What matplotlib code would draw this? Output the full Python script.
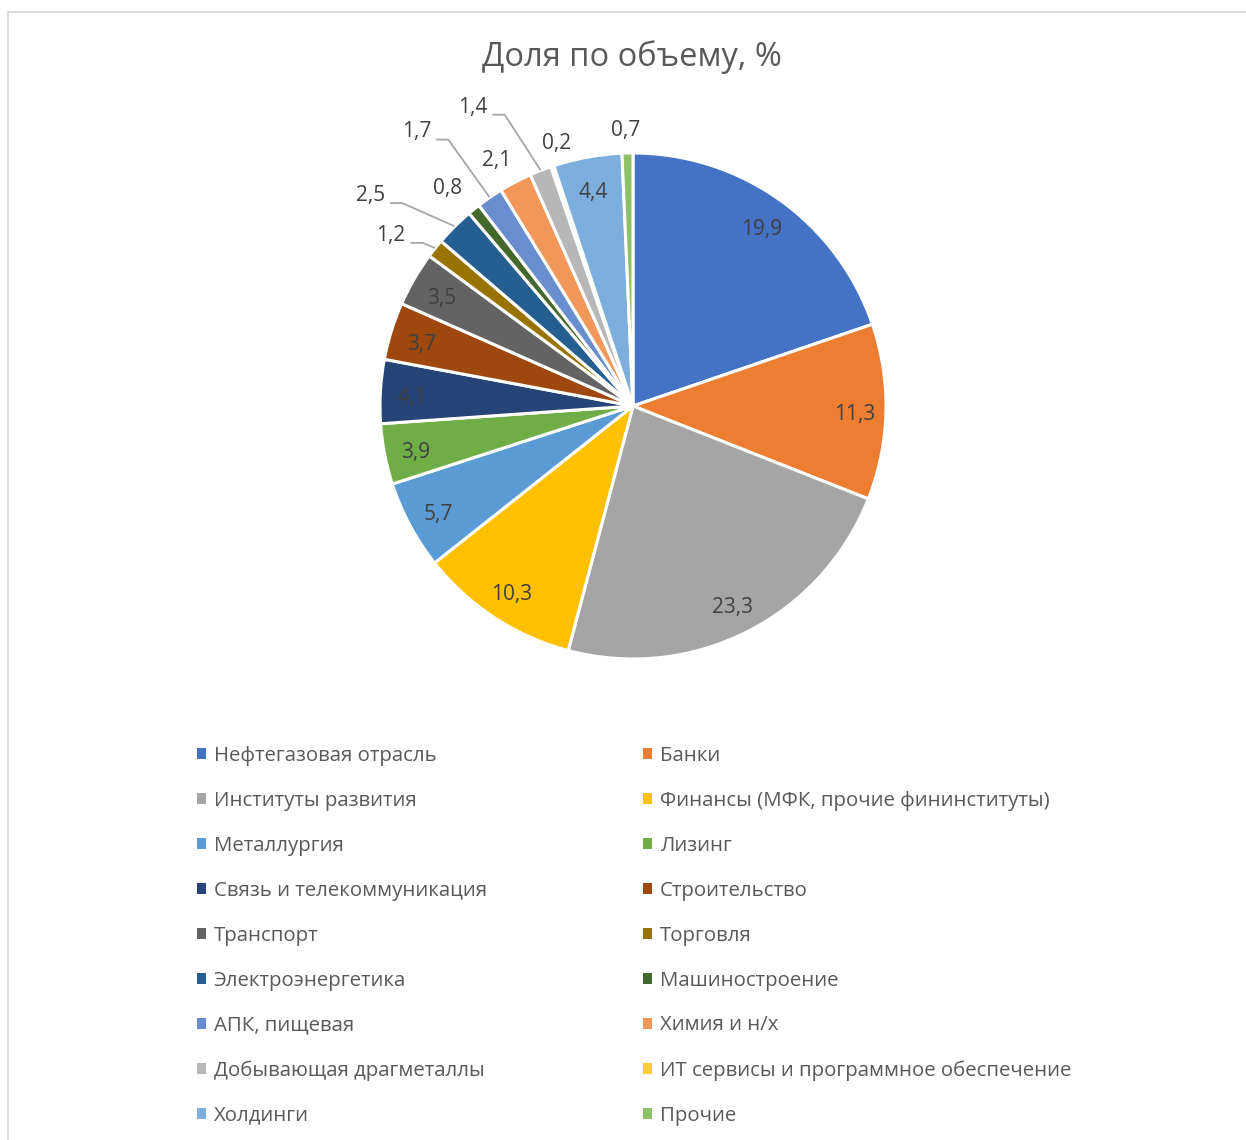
import numpy as np
import matplotlib
matplotlib.use('Agg')
from matplotlib import pyplot as plt
from matplotlib.patches import Rectangle, Patch

plt.rcParams['font.family'] = ['Open Sans', 'DejaVu Sans']

# sectors, shares in %, clockwise from 12 o'clock
sectors = ['Нефтегазовая отрасль', 'Банки', 'Институты развития',
           'Финансы (МФК, прочие фининституты)', 'Металлургия', 'Лизинг',
           'Связь и телекоммуникация', 'Строительство', 'Транспорт', 'Торговля',
           'Электроэнергетика', 'Машиностроение', 'АПК, пищевая', 'Химия и н/х',
           'Добывающая драгметаллы', 'ИТ сервисы и программное обеспечение',
           'Холдинги', 'Прочие']
shares = [19.9, 11.3, 23.3, 10.3, 5.7, 3.9, 4.1, 3.7, 3.5, 1.2,
          2.5, 0.8, 1.7, 2.1, 1.4, 0.2, 4.4, 0.7]
colors = ['#4472C4', '#ED7D31', '#A5A5A5', '#FFC000', '#5B9BD5', '#70AD47',
          '#264478', '#9E480E', '#636363', '#997300', '#255E91', '#43682B',
          '#698ED0', '#F1975A', '#B7B7B7', '#FFCD33', '#7CAFDD', '#8CC168']

# outside labels for thin slices: radius, angular nudge (deg), leader line?
outside = {9: (1.17, 3.3, True), 10: (1.33, 6.4, True), 11: (1.13, 1.5, False),
           12: (1.38, 3.8, True), 13: (1.11, 1.4, False), 14: (1.34, 6.7, True),
           15: (1.08, -2.3, False), 17: (1.09, 0.2, False)}

W, H = 1246, 1140
fig = plt.figure(figsize=(W / 100, H / 100), dpi=100)

# chart frame
fig.add_artist(Rectangle((8 / W, -0.1), 1.2, 1 - 12 / H + 0.1, transform=fig.transFigure,
                         fill=False, edgecolor='#D9D9D9', linewidth=1.2))

cx, cy, R = 633, 406, 253
ax = fig.add_axes([(cx - R) / W, (H - cy - R) / H, 2 * R / W, 2 * R / H])
wedges, _ = ax.pie(shares, colors=colors, startangle=90, counterclock=False,
                   radius=1, wedgeprops=dict(edgecolor='white', linewidth=2.2))
ax.set_xlim(-1, 1)
ax.set_ylim(-1, 1)
ax.axis('off')

for i, (w, v) in enumerate(zip(wedges, shares)):
    mid = np.deg2rad((w.theta1 + w.theta2) / 2)
    txt = ('%.1f' % v).replace('.', ',')
    if i in outside:
        r, nudge, leader = outside[i]
        a = mid + np.deg2rad(nudge)
        tx, ty = r * np.cos(a), r * np.sin(a)
        ax.text(tx, ty, txt, ha='center', va='center', fontsize=15, color='#404040')
        if leader:
            x0, y0 = tx + 0.08, ty - 0.03
            ax.plot([x0, x0 + 0.045, 1.005 * np.cos(mid)],
                    [y0, y0, 1.005 * np.sin(mid)],
                    color='#A6A6A6', lw=1.3, clip_on=False)
    else:
        ax.text(0.875 * np.cos(mid), 0.875 * np.sin(mid) - 0.015, txt, ha='center',
                va='center', fontsize=15, color='#404040')

fig.text(632 / W, 1 - 57 / H, 'Доля по объему, %', ha='center', va='center',
         fontsize=23.5, color='#595959')

# legend in two columns, filled row by row
handles = [Patch(facecolor=c, edgecolor='none') for c in colors]
for col, x in enumerate([197, 643]):
    idx = list(range(col, len(sectors), 2))
    leg = fig.legend([handles[i] for i in idx], [sectors[i] for i in idx],
                     loc='upper left', bbox_to_anchor=(x / W, 1 - 746 / H),
                     frameon=False, fontsize=14.7, labelcolor='#595959',
                     handlelength=0.43, handleheight=0.43, handletextpad=0.38,
                     labelspacing=1.22, borderpad=0, borderaxespad=0)

fig.savefig('out.png', dpi=100, facecolor='white')
